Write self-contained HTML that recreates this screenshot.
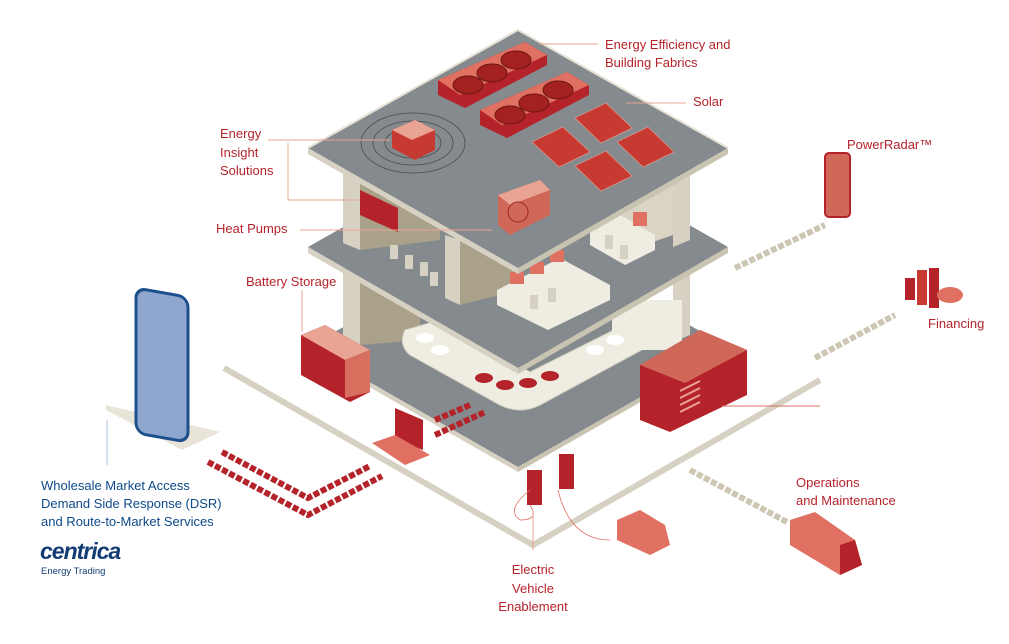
<!DOCTYPE html>
<html><head><meta charset="utf-8"><style>
body{margin:0;background:#fff;width:1009px;height:639px;overflow:hidden;font-family:"Liberation Sans",sans-serif}
.r{fill:#b5232a;font-size:13px}
.b{fill:#0d4a8a;font-size:13px}
</style></head><body>
<svg width="1009" height="639" viewBox="0 0 1009 639" xmlns="http://www.w3.org/2000/svg" font-family="Liberation Sans, sans-serif">
<polyline points="224,368 533,545 820,380" fill="none" stroke="#d6d1c2" stroke-width="6"/>
<polygon points="518,228 728,347 518,467 308,347" fill="#858a8e"/>
<polygon points="308,347 518,467 518,472 308,352" fill="#d6d1c2"/>
<polygon points="518,467 728,347 728,352 518,472" fill="#c9c3b1"/>
<polygon points="343,255 360,262 360,345 343,338" fill="#d6d1c2"/>
<polygon points="360,262 420,300 420,340 360,345" fill="#a9a189"/>
<polygon points="673,255 690,248 690,335 673,342" fill="#d6d1c2"/>
<path d="M405,330 L440,320 L530,372 L630,322 L660,340 L540,405 Q520,415 500,405 L410,355 Q398,345 405,330Z" fill="#efece1" stroke="#d6d1c2"/>
<rect x="612" y="300" width="70" height="50" fill="#efece1"/>
<g fill="#b5232a"><ellipse cx="484" cy="378" rx="9" ry="5"/><ellipse cx="505" cy="385" rx="9" ry="5"/><ellipse cx="528" cy="383" rx="9" ry="5"/><ellipse cx="550" cy="376" rx="9" ry="5"/></g>
<g fill="#fff"><ellipse cx="425" cy="338" rx="9" ry="5"/><ellipse cx="440" cy="350" rx="9" ry="5"/><ellipse cx="595" cy="350" rx="9" ry="5"/><ellipse cx="615" cy="340" rx="9" ry="5"/></g>
<polygon points="518,128 728,247 518,368 308,247" fill="#858a8e"/>
<polygon points="308,247 518,368 518,374 308,253" fill="#d6d1c2"/>
<polygon points="518,368 728,247 728,253 518,374" fill="#c9c3b1"/>
<polygon points="445,235 460,240 460,305 445,298" fill="#d6d1c2"/>
<polygon points="460,240 520,275 520,290 460,305" fill="#a9a189"/>
<polygon points="343,160 360,165 360,250 343,243" fill="#d6d1c2"/>
<polygon points="360,165 440,210 440,240 360,250" fill="#a9a189"/>
<polygon points="673,160 690,155 690,240 673,247" fill="#d6d1c2"/>
<polygon points="600,200 673,165 673,235 630,250" fill="#d9d4c4"/>
<polygon points="497,290 560,258 610,285 610,300 548,330 497,305" fill="#efece1"/>
<polygon points="590,230 620,215 655,235 655,250 625,265 590,245" fill="#efece1"/>
<g fill="#e07062"><rect x="510" y="272" width="14" height="12"/><rect x="530" y="262" width="14" height="12"/><rect x="550" y="250" width="14" height="12"/><rect x="633" y="212" width="14" height="14"/></g>
<g fill="#d6d1c2"><rect x="390" y="245" width="8" height="14"/><rect x="405" y="255" width="8" height="14"/><rect x="420" y="262" width="8" height="14"/><rect x="430" y="272" width="8" height="14"/><rect x="530" y="295" width="8" height="14"/><rect x="548" y="288" width="8" height="14"/><rect x="605" y="235" width="8" height="14"/><rect x="620" y="245" width="8" height="14"/></g>
<polygon points="360,190 398,208 398,232 360,215" fill="#b5232a"/>
<polygon points="518,30 728,148 518,268 308,148" fill="#858a8e"/>
<polygon points="308,148 518,268 518,274 308,154" fill="#d6d1c2"/>
<polygon points="518,268 728,148 728,154 518,274" fill="#c9c3b1"/>
<polyline points="308,148 518,30 728,148" fill="none" stroke="#e6e2d6" stroke-width="2"/>
<g fill="none" stroke="#4a4a4a" stroke-width="0.8"><ellipse cx="413" cy="143" rx="52" ry="30"/><ellipse cx="413" cy="143" rx="40" ry="22"/><ellipse cx="413" cy="143" rx="28" ry="15"/></g>
<polygon points="392,130 415,120 435,130 435,150 415,160 392,148" fill="#c73a32"/><polygon points="392,130 415,120 435,130 412,140" fill="#e9a493"/>
<polygon points="438,80 525,42 547,55 547,65 465,108 438,95" fill="#b5232a"/><polygon points="438,80 525,42 547,55 460,95" fill="#e07062"/>
<polygon points="480,110 567,72 589,85 589,95 507,138 480,125" fill="#b5232a"/><polygon points="480,110 567,72 589,85 502,125" fill="#e07062"/>
<g fill="#a3221f" stroke="#6e1512"><ellipse cx="468" cy="85" rx="15" ry="9"/><ellipse cx="492" cy="73" rx="15" ry="9"/><ellipse cx="516" cy="60" rx="15" ry="9"/><ellipse cx="510" cy="115" rx="15" ry="9"/><ellipse cx="534" cy="103" rx="15" ry="9"/><ellipse cx="558" cy="90" rx="15" ry="9"/></g>
<g fill="#c73a32" stroke="#e9a493" stroke-width="0.6"><polygon points="532,142 563,127 590,152 559,167"/><polygon points="575,118 606,103 632,128 601,143"/><polygon points="575,166 606,151 632,176 601,191"/><polygon points="617,142 648,127 674,152 643,167"/></g>
<polygon points="498,195 540,180 550,190 550,215 510,235 498,225" fill="#d0685a"/><polygon points="498,195 540,180 550,190 510,205" fill="#e9a493"/>
<circle cx="518" cy="212" r="10" fill="none" stroke="#a3221f"/>
<polygon points="301,335 325,325 370,350 370,392 350,402 301,375" fill="#b5232a"/><polygon points="301,335 325,325 370,350 345,360" fill="#e9a493"/><polygon points="345,360 370,350 370,392 345,398" fill="#d87060"/>
<polygon points="640,365 700,330 747,350 747,395 670,432 640,420" fill="#b5232a"/><polygon points="640,365 700,330 747,350 685,383" fill="#d0685a"/>
<g stroke="#e9a493" stroke-width="2"><line x1="680" y1="405" x2="700" y2="395"/><line x1="680" y1="398" x2="700" y2="388"/><line x1="680" y1="391" x2="700" y2="381"/><line x1="680" y1="412" x2="700" y2="402"/></g>
<line x1="722" y1="406" x2="820" y2="406" stroke="#d87060" stroke-width="1"/>
<polygon points="395,408 423,420 423,450 395,440" fill="#b5232a"/><polygon points="372,443 395,435 430,455 405,465" fill="#e07062"/>
<g stroke="#b5232a" stroke-width="6" fill="none" stroke-dasharray="6 2"><polyline points="222,452 308,498 370,466"/><polyline points="208,462 308,515 382,476"/><line x1="435" y1="420" x2="470" y2="405"/><line x1="435" y1="435" x2="485" y2="412"/></g>
<g stroke="#ccc6b3" stroke-width="6" fill="none" stroke-dasharray="6 2"><line x1="735" y1="268" x2="825" y2="225"/><line x1="815" y1="358" x2="895" y2="315"/><line x1="690" y1="470" x2="787" y2="522"/></g>
<polygon points="106,405 220,432 182,450 106,410" fill="#e8e4d8"/>
<rect x="136" y="290" width="52" height="145" rx="10" fill="#8fa6cf" stroke="#1c4f8c" stroke-width="3" transform="skewY(10) translate(0,-26)"/>
<line x1="107" y1="420" x2="107" y2="465" stroke="#a9c0dc"/>
<rect x="825" y="153" width="25" height="64" rx="4" fill="#d0685a" stroke="#b5232a" stroke-width="2"/>
<rect x="905" y="278" width="10" height="22" fill="#b5232a"/><rect x="917" y="270" width="10" height="35" fill="#c73a32"/><rect x="929" y="268" width="10" height="40" fill="#b5232a"/><ellipse cx="950" cy="295" rx="13" ry="8" fill="#e07062"/>
<rect x="527" y="470" width="15" height="35" fill="#b5232a"/><rect x="559" y="454" width="15" height="35" fill="#b5232a"/>
<path d="M558,490 Q570,540 610,540 M530,490 Q505,510 520,520 Q540,520 530,505" fill="none" stroke="#e07062" stroke-width="0.8"/>
<line x1="533" y1="512" x2="533" y2="550" stroke="#e9a493"/>
<polygon points="617,520 640,510 665,525 670,545 650,555 617,540" fill="#e07062"/>
<polygon points="790,520 815,512 855,540 862,565 840,575 790,545" fill="#e07062"/><polygon points="840,545 855,540 862,565 840,575" fill="#b5232a"/>
<g stroke="#e9a493" stroke-width="1" fill="none"><line x1="540" y1="44" x2="598" y2="44"/><line x1="626" y1="103" x2="686" y2="103"/><polyline points="268,140 390,140"/><polyline points="288,143 288,200 358,200"/><line x1="300" y1="230" x2="492" y2="230"/><line x1="302" y1="290" x2="302" y2="332"/></g>
<text class="r" x="605" y="49">Energy Efficiency and</text>
<text class="r" x="605" y="67">Building Fabrics</text>
<text class="r" x="693" y="106">Solar</text>
<text class="r" x="220" y="138">Energy</text>
<text class="r" x="220" y="157">Insight</text>
<text class="r" x="220" y="175">Solutions</text>
<text class="r" x="216" y="233">Heat Pumps</text>
<text class="r" x="246" y="286">Battery Storage</text>
<text class="r" x="847" y="149">PowerRadar™</text>
<text class="r" x="928" y="328">Financing</text>
<text class="r" x="796" y="487">Operations</text>
<text class="r" x="796" y="505">and Maintenance</text>
<text class="r" x="533" y="574" text-anchor="middle">Electric</text>
<text class="r" x="533" y="593" text-anchor="middle">Vehicle</text>
<text class="r" x="533" y="611" text-anchor="middle">Enablement</text>
<text class="b" x="41" y="490">Wholesale Market Access</text>
<text class="b" x="41" y="508">Demand Side Response (DSR)</text>
<text class="b" x="41" y="526">and Route-to-Market Services</text>
<text x="40" y="559" fill="#123d74" font-size="23" font-weight="bold" font-style="italic" letter-spacing="-1">centrica</text>
<text x="41" y="574" fill="#123d74" font-size="9.5">Energy Trading</text>
</svg>
</body></html>
